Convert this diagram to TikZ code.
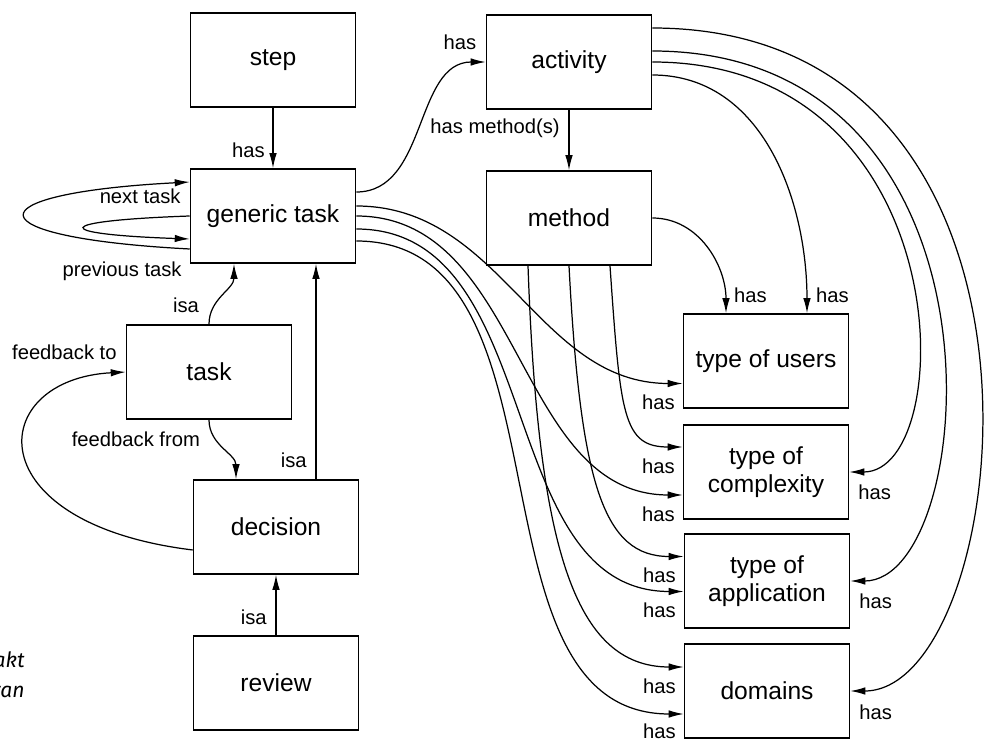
\documentclass[tikz,border=0pt]{standalone}
\usepackage{fontspec}
\setmainfont{Liberation Sans}
\newfontfamily\notefont{Fira Sans}
\usetikzlibrary{arrows.meta, positioning, calc}

\begin{document}
\begin{tikzpicture}[
  x=0.02cm, y=0.02cm,
  >={Latex[length=0.3cm,width=0.15cm]},
  box/.style={draw, line width=0.9pt, minimum width=3.3cm, minimum height=1.88cm, align=center, font=\fontsize{14}{16}\selectfont},
  rel/.style={draw, line width=0.7pt, ->},
  lbl/.style={inner sep=1pt, font=\fontsize{11.5}{13}\selectfont},
  note/.style={inner sep=0pt, font=\notefont\itshape\fontsize{12}{14}\selectfont}
  ]
  \useasboundingbox (0,0) rectangle (987,738);
  \node[box] (step) at (273,678) {step};
  \node[box] (gt) at (273,522) {generic task};
  \node[box] (task) at (209,366) {task};
  \node[box] (decision) at (276,211) {decision};
  \node[box] (review) at (276,55) {review};
  \node[box] (activity) at (569,676) {activity};
  \node[box] (method) at (569,520) {method};
  \node[box] (users) at (766,377) {type of users};
  \node[box] (complexity) at (766,266) {type of\\complexity};
  \node[box] (application) at (767,157) {type of\\application};
  \node[box] (domains) at (767,47) {domains};
  \node[note, anchor=east] (akt) at (25,78) {akt};
  \node[note, anchor=east] (van) at (25,46) {van};

  \draw[rel] (step.south) -- node[lbl, pos=0.7, left=0.12cm] {has} (gt.north);
  \draw[rel] ([yshift=-0.66cm]gt.west) to[out=177, in=183, distance=4.4cm] ([yshift=0.68cm]gt.west);
  \node[lbl, anchor=east] (nexttask) at ([xshift=-0.14cm,yshift=0.4cm]gt.west) {next task};
  \draw[rel] (gt.west) to[out=182, in=178, distance=2.8cm] ([yshift=-0.46cm]gt.west);
  \node[lbl, anchor=east] (prevtask) at ([xshift=-0.12cm,yshift=-1.1cm]gt.west) {previous task};
  \draw[rel] (task.north) to[out=90, in=-90] ([xshift=-0.78cm]gt.south);
  \node[lbl, anchor=east] (isatask) at ([xshift=-0.16cm,yshift=0.38cm]task.north) {isa};
  \draw[rel] ([xshift=0.8cm]decision.north) -- node[lbl, pos=0.09, left=0.14cm] {isa} ([xshift=0.8cm]decision.north |- gt.south);
  \draw[rel] (task.south) to[out=-90, in=90] ([xshift=-0.8cm]decision.north);
  \node[lbl, anchor=east] (fbfrom) at ([xshift=-0.14cm,yshift=-0.38cm]task.south) {feedback from};
  \draw[rel] ([yshift=-0.46cm]decision.west) to[out=173, in=183, out distance=4.4cm, in distance=2.8cm] (task.west);
  \node[lbl, anchor=east] (fbto) at ([xshift=-0.14cm,yshift=0.4cm]task.west) {feedback to};
  \draw[rel] (review.north) -- node[lbl, pos=0.3, left=0.14cm] {isa} (decision.south);

  \draw[rel] ([yshift=0.48cm]gt.east) to[out=0, in=180] (activity.west);
  \node[lbl, anchor=east] (hasact) at ([xshift=-0.15cm,yshift=0.4cm]activity.west) {has};
  \draw[rel] (activity.south) -- node[lbl, pos=0.3, left=0.14cm] {has method(s)} (method.north);

  \draw[rel] (method.east) to[out=0, in=90] ([xshift=-0.8cm]users.north);
  \node[lbl, anchor=west] (hasu1) at ([xshift=-0.68cm,yshift=0.36cm]users.north) {has};
  \draw[rel] ([yshift=-0.26cm]activity.east) to[out=0, in=90] ([xshift=0.82cm]users.north);
  \node[lbl, anchor=west] (hasu2) at ([xshift=0.96cm,yshift=0.36cm]users.north) {has};
  \draw[rel] (activity.east) to[out=0, in=0, out distance=6.2cm, in distance=2.2cm] (complexity.east);
  \node[lbl, anchor=west] (hasc3) at ([xshift=0.14cm,yshift=-0.4cm]complexity.east) {has};
  \draw[rel] ([yshift=0.22cm]activity.east) to[out=0, in=0, out distance=7.4cm, in distance=2.6cm] (application.east);
  \node[lbl, anchor=west] (hasa3) at ([xshift=0.14cm,yshift=-0.41cm]application.east) {has};
  \draw[rel] ([yshift=0.68cm]activity.east) to[out=0, in=0, out distance=8.8cm, in distance=3.3cm] (domains.east);
  \node[lbl, anchor=west] (hasd3) at ([xshift=0.14cm,yshift=-0.42cm]domains.east) {has};

  \draw[rel] ([xshift=0.82cm]method.south) to[out=-86, in=180, out distance=3cm, in distance=1.2cm] ([yshift=0.5cm]complexity.west);
  \node[lbl, anchor=east] (hasc1) at ([xshift=-0.12cm,yshift=0.12cm]complexity.west) {has};
  \draw[rel] (method.south) to[out=-87, in=180, out distance=4.4cm, in distance=1.6cm] ([yshift=0.49cm]application.west);
  \node[lbl, anchor=east] (hasa1) at ([xshift=-0.12cm,yshift=0.11cm]application.west) {has};
  \draw[rel] ([xshift=-0.82cm]method.south) to[out=-88, in=180, out distance=5.6cm, in distance=2.2cm] ([yshift=0.48cm]domains.west);
  \node[lbl, anchor=east] (hasd1) at ([xshift=-0.12cm,yshift=0.1cm]domains.west) {has};

  \draw[rel] ([yshift=0.2cm]gt.east) to[out=0, in=180] ([yshift=-0.45cm]users.west);
  \node[lbl, anchor=east] (hasu3) at ([xshift=-0.12cm,yshift=-0.83cm]users.west) {has};
  \draw[rel] (gt.east) to[out=0, in=180] ([yshift=-0.46cm]complexity.west);
  \node[lbl, anchor=east] (hasc2) at ([xshift=-0.12cm,yshift=-0.84cm]complexity.west) {has};
  \draw[rel] ([yshift=-0.26cm]gt.east) to[out=0, in=180] ([yshift=-0.21cm]application.west);
  \node[lbl, anchor=east] (hasa2) at ([xshift=-0.12cm,yshift=-0.59cm]application.west) {has};
  \draw[rel] ([yshift=-0.5cm]gt.east) to[out=0, in=180] ([yshift=-0.46cm]domains.west);
  \node[lbl, anchor=east] (hasd2) at ([xshift=-0.12cm,yshift=-0.8cm]domains.west) {has};
\end{tikzpicture}
\end{document}
